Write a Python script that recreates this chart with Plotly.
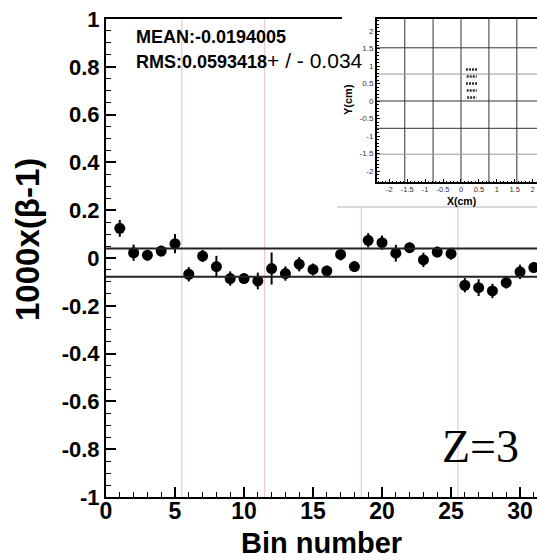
import plotly.graph_objects as go

# ---- main data ----
bins = list(range(1, 32))
values = [0.124, 0.022, 0.012, 0.029, 0.060, -0.068, 0.008, -0.036, -0.086, -0.086,
          -0.096, -0.044, -0.065, -0.026, -0.048, -0.054, 0.015, -0.036, 0.074, 0.064,
          0.020, 0.043, -0.008, 0.025, 0.018, -0.114, -0.124, -0.138, -0.103, -0.058, -0.040]
errors = [0.035, 0.034, 0.022, 0.022, 0.040, 0.030, 0.025, 0.045, 0.030, 0.022,
          0.035, 0.067, 0.030, 0.030, 0.025, 0.022, 0.025, 0.022, 0.030, 0.030,
          0.035, 0.022, 0.030, 0.022, 0.025, 0.030, 0.035, 0.030, 0.025, 0.030, 0.022]
MEAN = -0.0194005
RMS = 0.0593418
RMS_ERR_TEXT = "0.034"
separators = [5.5, 11.5, 18.5, 25.5]
sep_full_height = [True, True, False, False]
y_tickvals = [-1, -0.8, -0.6, -0.4, -0.2, 0, 0.2, 0.4, 0.6, 0.8, 1]
y_ticktext = ["-1", "-0.8", "-0.6", "-0.4", "-0.2", "0", "0.2", "0.4", "0.6", "0.8", "1"]

# ---- inset data ----
inset_rows_y = [0.9, 0.7, 0.5, 0.3, 0.1]
inset_rows_x0 = [0.14, 0.16, 0.14, 0.16, 0.17]
inset_rows_x1 = [0.46, 0.44, 0.46, 0.44, 0.43]
inset_grid_x = [-1.57, -0.78, 0.0, 0.78, 1.56]
inset_grid_y = [1.52, 0.77, 0.0, -0.78, -1.52]
inset_grid_y_color = ["#333", "#999", "#333", "#333", "#999"]
inset_tickvals = [-2, -1.5, -1, -0.5, 0, 0.5, 1, 1.5, 2]
inset_ticktext = ["-2", "-1.5", "-1", "-0.5", "0", "0.5", "1", "1.5", "2"]

W, H = 537, 560
L, R, T, B = 106, 0, 19, 63
pw, ph = W - L - R, H - T - B


def px(xp):
    return (xp - L) / pw


def py(yp):
    return (H - B - yp) / ph


fig = go.Figure()

# main points
fig.add_trace(go.Scatter(
    x=bins, y=values, mode="markers",
    marker=dict(color="black", size=11),
    error_y=dict(type="data", array=errors, color="black", thickness=2, width=0),
    xaxis="x", yaxis="y", showlegend=False, hoverinfo="skip"))

# inset grid
for gx in inset_grid_x:
    fig.add_trace(go.Scatter(x=[gx, gx], y=[-2.4, 2.4], mode="lines",
                             line=dict(color="#333", width=1),
                             xaxis="x2", yaxis="y2", showlegend=False, hoverinfo="skip"))
for gy, gc in zip(inset_grid_y, inset_grid_y_color):
    fig.add_trace(go.Scatter(x=[-2.4, 2.4], y=[gy, gy], mode="lines",
                             line=dict(color=gc, width=1),
                             xaxis="x2", yaxis="y2", showlegend=False, hoverinfo="skip"))
# inset rows
for yy, x0, x1 in zip(inset_rows_y, inset_rows_x0, inset_rows_x1):
    fig.add_trace(go.Scatter(x=[x0, x1], y=[yy, yy], mode="lines",
                             line=dict(color="#333", width=2.5, dash="2px,1px"),
                             xaxis="x2", yaxis="y2", showlegend=False, hoverinfo="skip"))

shapes = []
pad_bottom = py(207)
for sx, full in zip(separators, sep_full_height):
    shapes.append(dict(type="line", xref="x", yref="paper", x0=sx, x1=sx,
                       y0=0, y1=1 if full else pad_bottom,
                       line=dict(color="#e9bccb", width=1), layer="below"))
for yv in [MEAN + RMS, MEAN - RMS]:
    shapes.append(dict(type="line", xref="x domain", yref="y", x0=0, x1=1,
                       y0=yv, y1=yv, line=dict(color="#222", width=2)))
shapes.append(dict(type="line", xref="paper", yref="paper", x0=px(337), x1=1,
                   y0=pad_bottom, y1=pad_bottom, line=dict(color="#cccccc", width=1.5)))
# inset pad hides the main frame's top edge just left of the inset
shapes.append(dict(type="line", xref="paper", yref="paper", x0=px(342), x1=px(375),
                   y0=1, y1=1, line=dict(color="white", width=4), layer="above"))

bold_font = dict(family="Liberation Sans, Arial", color="black")

annotations = [
    dict(text="1000x(β-1)", textangle=-90, xref="paper", yref="paper",
         x=px(28), y=py(240), showarrow=False, xanchor="center", yanchor="middle",
         font=dict(size=33, weight="bold", **bold_font)),
    dict(text="Bin number", xref="paper", yref="paper", x=px(321), y=py(543),
         showarrow=False, xanchor="center", yanchor="middle",
         font=dict(size=29, weight="bold", **bold_font)),
    dict(text="MEAN:" + str(MEAN), xref="paper", yref="paper", x=px(134), y=py(37),
         showarrow=False, xanchor="left", yanchor="middle",
         font=dict(size=18, weight="bold", **bold_font)),
    dict(text="<b>RMS:" + str(RMS) + "</b><span style='font-size:21px'>+ / - " + RMS_ERR_TEXT + "</span>",
         xref="paper", yref="paper", x=px(134), y=py(61),
         showarrow=False, xanchor="left", yanchor="middle",
         font=dict(size=18, **bold_font)),
    dict(text="Z=3", xref="paper", yref="paper", x=px(440), y=py(446),
         showarrow=False, xanchor="left", yanchor="middle",
         font=dict(size=46, family="Liberation Serif, Times New Roman", color="black")),
    dict(text="X(cm)", xref="paper", yref="paper", x=px(461), y=py(201),
         showarrow=False, xanchor="center", yanchor="middle",
         font=dict(size=10.5, weight="bold", **bold_font)),
    dict(text="Y(cm)", textangle=-90, xref="paper", yref="paper", x=px(348), y=py(100),
         showarrow=False, xanchor="center", yanchor="middle",
         font=dict(size=11, weight="bold", **bold_font)),
]

inset_x0 = px(377)
inset_y0 = py(182)

fig.update_layout(
    width=W, height=H,
    margin=dict(l=L, r=R, t=T, b=B),
    paper_bgcolor="white", plot_bgcolor="white",
    shapes=shapes, annotations=annotations,
    xaxis=dict(domain=[0, 1], range=[0, 31.23], showgrid=False, zeroline=False,
               showline=True, linecolor="black", linewidth=2, mirror=True,
               ticks="inside", ticklen=10, tickwidth=1.5, tickcolor="black",
               tick0=0, dtick=5,
               minor=dict(ticks="inside", ticklen=5, dtick=1, tickcolor="black", tickwidth=1.2),
               tickfont=dict(size=23, weight="bold", **bold_font),
               ticklabelstandoff=-8),
    yaxis=dict(domain=[0, 1], range=[-1, 1], showgrid=False, zeroline=False,
               showline=True, linecolor="black", linewidth=2,
               ticks="inside", ticklen=10, tickwidth=1.5, tickcolor="black",
               tickvals=y_tickvals, ticktext=y_ticktext,
               minor=dict(ticks="inside", ticklen=5, dtick=0.05, tickcolor="black", tickwidth=1.2),
               tickfont=dict(size=22, weight="bold", **bold_font)),
    xaxis2=dict(domain=[inset_x0, 1], range=[-2.346, 2.123], anchor="y2",
                showgrid=False, zeroline=False, showline=True, linecolor="black",
                linewidth=2, mirror=True, ticks="inside", ticklen=3, tickwidth=1,
                tickcolor="black", tickvals=inset_tickvals, ticktext=inset_ticktext,
                minor=dict(ticks="inside", ticklen=1.5, dtick=0.1, tickcolor="black"),
                tickfont=dict(size=7.5, color="#333", family="Liberation Sans, Arial"),
                ticklabelstandoff=-1),
    yaxis2=dict(domain=[inset_y0, 1], range=[-2.314, 2.343], anchor="x2",
                showgrid=False, zeroline=False, showline=True, linecolor="black",
                linewidth=2, ticks="inside", ticklen=3, tickwidth=1,
                tickcolor="black", tickvals=inset_tickvals, ticktext=inset_ticktext,
                minor=dict(ticks="inside", ticklen=1.5, dtick=0.1, tickcolor="black"),
                tickfont=dict(size=8, color="#333", family="Liberation Sans, Arial"),
                ticklabelstandoff=0),
)

fig.write_html("out.html")
